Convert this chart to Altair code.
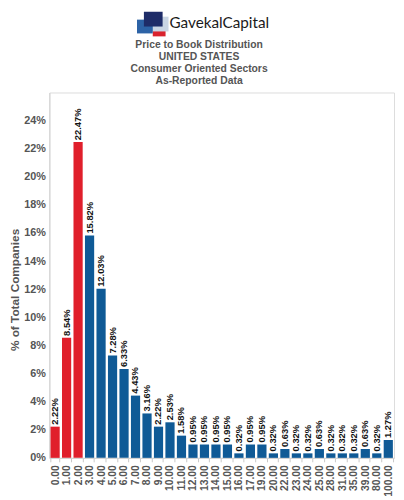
import altair as alt
import pandas as pd

# ---- data ----
pb_buckets = ["0.00", "1.00", "2.00", "3.00", "4.00", "5.00", "6.00", "7.00", "8.00",
              "9.00", "10.00", "11.00", "12.00", "13.00", "14.00", "15.00", "16.00",
              "17.00", "19.00", "20.00", "22.00", "23.00", "24.00", "25.00", "28.00",
              "31.00", "35.00", "39.00", "80.00", "100.00"]
pct_companies = [2.22, 8.54, 22.47, 15.82, 12.03, 7.28, 6.33, 4.43, 3.16,
                 2.22, 2.53, 1.58, 0.95, 0.95, 0.95, 0.95, 0.32,
                 0.95, 0.95, 0.32, 0.63, 0.32, 0.32, 0.63, 0.32,
                 0.32, 0.32, 0.63, 0.32, 1.27]
highlight = ["low", "low", "low"] + ["rest"] * (len(pb_buckets) - 3)
y_ticks = [0, 2, 4, 6, 8, 10, 12, 14, 16, 18, 20, 22, 24]

title_lines = ["Price to Book Distribution", "UNITED STATES",
               "Consumer Oriented Sectors", "As-Reported Data"]

RED = "#E01F2B"
BLUE = "#0F5A96"
GRAY = "#555555"
FONT = "Liberation Sans"

df = pd.DataFrame({"pb": pb_buckets, "pct": pct_companies, "grp": highlight})
df["label"] = [f"{v:.2f}%" for v in pct_companies]

x_axis = alt.Axis(title=None, labelAngle=270, labelFontSize=10.5,
                  labelFontWeight="bold", labelColor=GRAY, labelFont=FONT,
                  labelPadding=3, ticks=True, tickBand="extent", tickSize=4,
                  tickColor="#c8c8c8", domainColor="#d0d0d0", labelOverlap=False)
y_axis = alt.Axis(title="% of Total Companies", values=y_ticks,
                  labelExpr="datum.value + '%'", labelFontSize=11,
                  labelFontWeight="bold", labelColor=GRAY, labelFont=FONT,
                  labelPadding=4, ticks=False, grid=False, labelOverlap=False,
                  domainColor="#d0d0d0", titleFontSize=12,
                  titleFontWeight="bold", titleColor=GRAY, titleFont=FONT,
                  titlePadding=2, titleY=200)
x_enc = alt.X("pb:N", sort=pb_buckets,
              scale=alt.Scale(paddingInner=0.2, paddingOuter=0.1), axis=x_axis)
y_enc = alt.Y("pct:Q", scale=alt.Scale(domain=[0, 26], nice=False), axis=y_axis)

base = alt.Chart(df)

bars = base.mark_bar().encode(
    x=x_enc,
    y=y_enc,
    color=alt.Color("grp:N", scale=alt.Scale(domain=["low", "rest"], range=[RED, BLUE]),
                    legend=None),
)

labels = base.mark_text(angle=270, align="left", baseline="middle", dx=2,
                        fontSize=9.5, fontWeight="bold", font=FONT,
                        color="#111111").encode(
    x=x_enc,
    y=y_enc,
    text="label:N",
)

# ---- logo and heading decoration ----
one = pd.DataFrame({"k": [0]})


def square(x0, x1, y0, y1, color):
    return alt.Chart(one).mark_rect(color=color).encode(
        x=alt.value(x0), x2=alt.value(x1), y=alt.value(y0), y2=alt.value(y1))


heading = [
    square(105, 118, -64, -57, "#D9232E"),
    square(102, 121, -77, -62, "#C9D5E3"),
    square(89, 105, -74, -60, "#2D63A6"),
    square(96, 115, -82, -67, "#1E2C68"),
    alt.Chart(one).mark_text(text="GavekalCapital", align="left", baseline="middle",
                             font="Lato", fontSize=15.5, color="#1a1a1a").encode(
        x=alt.value(122), y=alt.value(-71)),
    alt.Chart(one).mark_text(text=title_lines, align="center", baseline="top",
                             font=FONT, fontSize=10.5, fontWeight="bold",
                             lineHeight=12, color=GRAY).encode(
        x=alt.value(152), y=alt.value(-53)),
]

chart = alt.layer(bars, labels, *heading).properties(
    width=350, height=371,
    padding={"left": 0, "top": 0, "right": 2, "bottom": 0},
).configure_view(stroke="#dcdcdc", strokeWidth=1
).configure_axis(labelOverlap=False)

chart.save("out.html", embed_options={"renderer": "svg", "actions": False})
